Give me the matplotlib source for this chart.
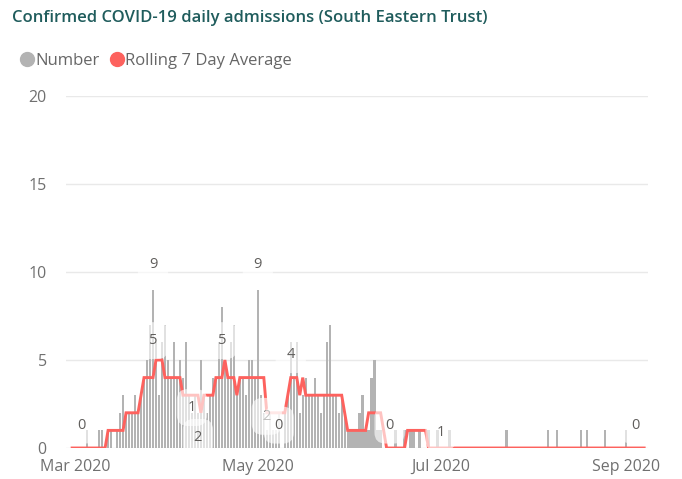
import matplotlib
matplotlib.use("Agg")
import matplotlib.pyplot as plt
import pandas as pd
from matplotlib.lines import Line2D

plt.rcParams['font.family'] = ['Open Sans', 'DejaVu Sans']

start_date = "2020-02-29"
end_date = "2020-09-07"

# daily confirmed admissions (Feb 29 .. Sep 7), rows of 7 days
number = [
    0, 0, 0, 0, 0, 1, 0,
    0, 0, 1, 1, 0, 1, 1,
    0, 1, 2, 3, 2, 2, 2,
    3, 2, 3, 4, 5, 7, 9,
    6, 3, 6, 7, 5, 4, 6,
    4, 5, 4, 6, 3, 2, 3,
    2, 5, 3, 2, 3, 4, 4,
    6, 8, 5, 4, 6, 7, 3,
    4, 4, 3, 5, 5, 4, 9,
    3, 2, 1, 2, 1, 1, 2,
    0, 2, 3, 6, 4, 6, 2,
    3, 4, 3, 3, 4, 3, 2,
    3, 6, 7, 3, 3, 2, 3,
    2, 1, 1, 1, 1, 2, 3,
    1, 1, 4, 5, 1, 1, 0,
    0, 0, 0, 1, 0, 0, 1,
    0, 1, 1, 0, 1, 0, 0,
    1, 0, 0, 1, 0, 0, 0,
    1, 0, 0, 0, 0, 0, 0,
    0, 0, 0, 0, 0, 0, 0,
    0, 0, 0, 0, 0, 1, 0,
    0, 0, 0, 0, 0, 0, 0,
    0, 0, 0, 0, 0, 1, 0,
    0, 1, 0, 0, 0, 0, 0,
    0, 0, 1, 0, 1, 0, 0,
    0, 0, 0, 1, 0, 0, 0,
    0, 0, 0, 1, 0, 0, 0,
    0, 0, 0,
]

# rolling 7 day average as displayed (rounded)
rolling = [
    0, 0, 0, 0, 0, 0, 0,
    0, 0, 0, 0, 0, 1, 1,
    1, 1, 1, 1, 2, 2, 2,
    2, 2, 3, 4, 4, 4, 4,
    5, 5, 5, 4, 4, 4, 4,
    4, 4, 3, 3, 3, 3, 3,
    3, 2, 3, 3, 3, 3, 4,
    4, 4, 5, 4, 4, 4, 3,
    4, 4, 4, 4, 4, 4, 4,
    4, 4, 2, 2, 2, 2, 2,
    2, 2, 3, 4, 4, 4, 3,
    4, 3, 3, 3, 3, 3, 3,
    3, 3, 3, 3, 3, 3, 3,
    2, 1, 1, 1, 1, 1, 1,
    1, 2, 2, 2, 2, 2, 1,
    0, 0, 0, 0, 0, 0, 0,
    1, 1, 1, 1, 1, 1, 1,
    0, 0, 0, 0, 0, 0, 0,
    0, 0, 0, 0, 0, 0, 0,
    0, 0, 0, 0, 0, 0, 0,
    0, 0, 0, 0, 0, 0, 0,
    0, 0, 0, 0, 0, 0, 0,
    0, 0, 0, 0, 0, 0, 0,
    0, 0, 0, 0, 0, 0, 0,
    0, 0, 0, 0, 0, 0, 0,
    0, 0, 0, 0, 0, 0, 0,
    0, 0, 0, 0, 0, 0, 0,
    0, 0, 0,
]

# data labels: (date, value position, text)
label_dates = ["2020-03-03", "2020-03-27", "2020-03-27", "2020-04-09", "2020-04-11",
               "2020-04-19", "2020-05-01", "2020-05-04", "2020-05-08", "2020-05-12",
               "2020-06-14", "2020-07-01", "2020-09-04"]
label_vals = [1.3, 10.4, 6.1, 2.3, 0.6, 6.1, 10.4, 1.8, 1.3, 5.3, 1.3, 0.9, 1.3]
label_texts = ["0", "9", "5", "1", "2", "5", "9", "2", "0", "4", "0", "1", "0"]

yticks = [0, 5, 10, 15, 20]
xtick_dates = ["2020-03-01", "2020-05-01", "2020-07-01", "2020-09-01"]
xtick_labels = ["Mar 2020", "May 2020", "Jul 2020", "Sep 2020"]

dates = pd.date_range(start_date, end_date, freq="D")

fig = plt.figure(figsize=(6.82, 4.79), dpi=100)
ax = fig.add_axes([0.097, 0.0647, 0.853, 0.735])

bar_color = "#B3B3B3"
line_color = "#FD625E"

ax.bar(dates, number, width=0.78, color=bar_color, zorder=2)
ax.plot(dates, rolling, color=line_color, lw=2.1, zorder=3, solid_joinstyle="miter")

for d, v, t in zip(label_dates, label_vals, label_texts):
    ax.text(pd.Timestamp(d), v, t, ha="center", va="center", fontsize=10.5,
            color="#605E5C", zorder=5,
            bbox=dict(boxstyle="round,pad=0.75", fc="white", ec="none", alpha=0.62))

ax.set_ylim(0, 20)
ax.set_xlim(pd.Timestamp("2020-02-27 00:00"), pd.Timestamp("2020-09-08 06:00"))
ax.set_yticks(yticks)
ax.set_yticklabels([str(v) for v in yticks])
ax.set_xticks([pd.Timestamp(d) for d in xtick_dates])
ax.set_xticklabels(xtick_labels)
ax.grid(axis="y", color="#E9E9E9", lw=1, zorder=0)
ax.set_axisbelow(True)
for s in ax.spines.values():
    s.set_visible(False)
ax.tick_params(axis="both", length=0, labelsize=11.5, labelcolor="#707070")
ax.tick_params(axis="y", pad=14)
ax.tick_params(axis="x", pad=8)

fig.text(0.018, 0.962, "Confirmed COVID-19 daily admissions (South Eastern Trust)",
         fontsize=12, fontweight="semibold", color="#1F5C5C", ha="left", va="center")

handles = [Line2D([], [], marker="o", ls="none", color=bar_color, markersize=10),
           Line2D([], [], marker="o", ls="none", color=line_color, markersize=10)]
fig.legend(handles, ["Number", "Rolling 7 Day Average"], loc="center left",
           bbox_to_anchor=(0.018, 0.873), ncol=2, frameon=False, fontsize=12,
           labelcolor="#666666", handletextpad=0.0, columnspacing=0.5,
           handlelength=1.0, borderaxespad=0)

fig.savefig("out.png", dpi=100)
